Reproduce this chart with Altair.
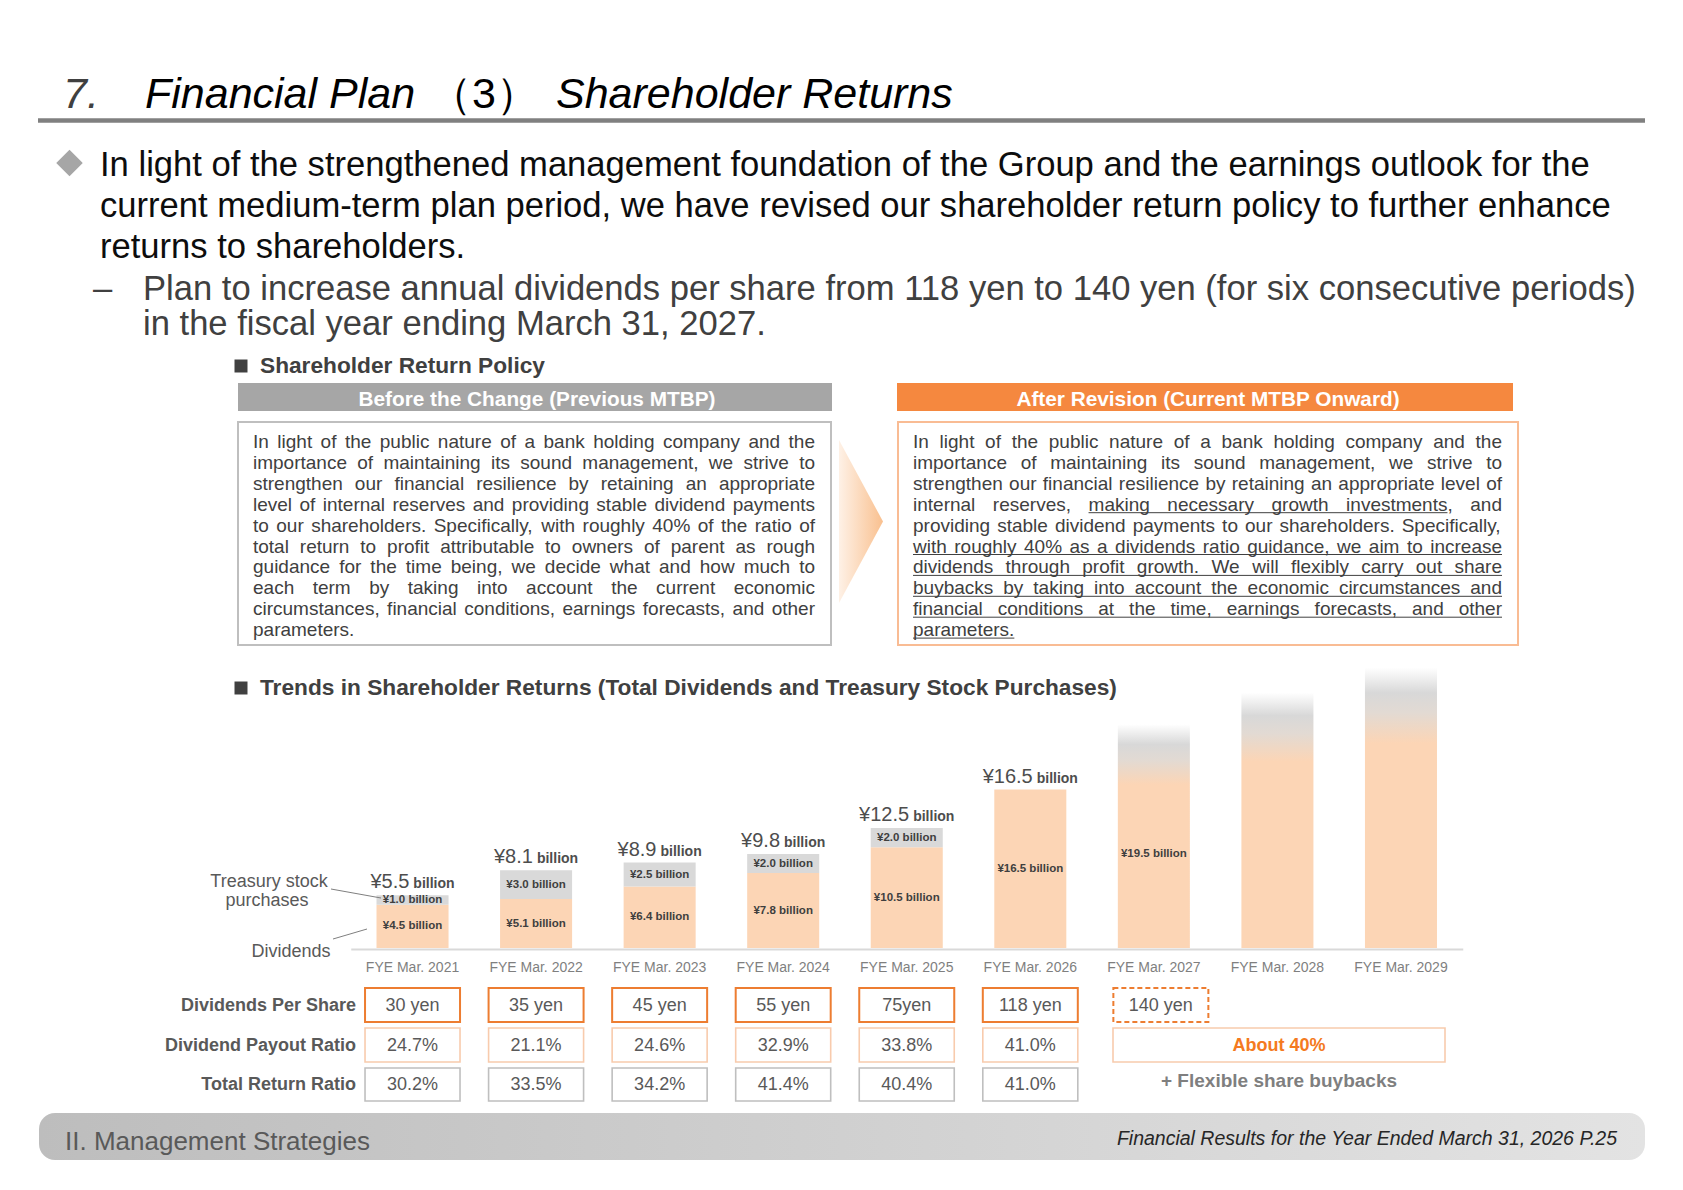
import altair as alt
import pandas as pd

# ---------------- data ----------------
years = ["FYE Mar. 2021", "FYE Mar. 2022", "FYE Mar. 2023", "FYE Mar. 2024",
         "FYE Mar. 2025", "FYE Mar. 2026", "FYE Mar. 2027", "FYE Mar. 2028", "FYE Mar. 2029"]
actual_years = years[:6]
plan_years = years[6:]
dividends_bn = [4.5, 5.1, 6.4, 7.8, 10.5, 16.5]
buybacks_bn = [1.0, 3.0, 2.5, 2.0, 2.0, 0.0]
totals_bn = [5.5, 8.1, 8.9, 9.8, 12.5, 16.5]
plan_dividend_bn = [19.5]                 # FYE Mar. 2027 plan
plan_bar_height_bn = [23.3, 26.6, 29.2]   # faded illustrative bars (estimated)
dps = ["30 yen", "35 yen", "45 yen", "55 yen", "75yen", "118 yen"]
dps_plan = ["140 yen"]
payout = ["24.7%", "21.1%", "24.6%", "32.9%", "33.8%", "41.0%"]
total_return = ["30.2%", "33.5%", "34.2%", "41.4%", "40.4%", "41.0%"]
payout_plan = "About 40%"
total_return_plan = "+ Flexible share buybacks"
row_labels = ["Dividends Per Share", "Dividend Payout Ratio", "Total Return Ratio"]

title_parts = ["7.", "Financial Plan", "（3）", "Shareholder Returns"]
bullet_lines = [
    "In light of the strengthened management foundation of the Group and the earnings outlook for the",
    "current medium-term plan period, we have revised our shareholder return policy to further enhance",
    "returns to shareholders.",
]
sub_lines = [
    "Plan to increase annual dividends per share from 118 yen to 140 yen (for six consecutive periods)",
    "in the fiscal year ending March 31, 2027.",
]
policy_title = "Shareholder Return Policy"
trend_title = "Trends in Shareholder Returns (Total Dividends and Treasury Stock Purchases)"
before_title = "Before the Change (Previous MTBP)"
after_title = "After Revision (Current MTBP Onward)"
before_lines = [
    "In light of the public nature of a bank holding company and the",
    "importance of maintaining its sound management, we strive to",
    "strengthen our financial resilience by retaining an appropriate",
    "level of internal reserves and providing stable dividend payments",
    "to our shareholders. Specifically, with roughly 40% of the ratio of",
    "total return to profit attributable to owners of parent as rough",
    "guidance for the time being, we decide what and how much to",
    "each term by taking into account the current economic",
    "circumstances, financial conditions, earnings forecasts, and other",
    "parameters.",
]
after_lines = [
    "In light of the public nature of a bank holding company and the",
    "importance of maintaining its sound management, we strive to",
    "strengthen our financial resilience by retaining an appropriate level of",
    "internal reserves, [making necessary growth investments], and",
    "providing stable dividend payments to our shareholders. Specifically,",
    "[with roughly 40% as a dividends ratio guidance, we aim to increase]",
    "[dividends through profit growth. We will flexibly carry out share]",
    "[buybacks by taking into account the economic circumstances and]",
    "[financial conditions at the time, earnings forecasts, and other]",
    "[parameters.]",
]
footer_left = "II. Management Strategies"
footer_right = "Financial Results for the Year Ended March 31, 2026 P.25"

# ---------------- layout helpers ----------------
W, H = 1660, 1166
FONT = "Liberation Sans, Arial, Helvetica, sans-serif"
PEACH = "#FCD5B5"
SEG_GRAY = "#D9D9D9"
ORANGE = "#ED7D31"
LIGHT_OR = "#F8CBAD"
BOX_GRAY = "#BFBFBF"
TXT = "#595959"
DARK = "#404040"


def cx(v):
    return v - 8


cy = cx

_W = ([278, 278, 355, 556, 556, 889, 667, 191, 333, 333, 389, 584, 278, 333, 278, 278] + [556] * 10 +
      [278, 278, 584, 584, 584, 556, 1015,
       667, 667, 722, 722, 667, 611, 778, 722, 278, 500, 667, 556, 833, 722, 778, 667, 778, 722, 667, 611,
       722, 667, 944, 667, 667, 611,
       278, 278, 278, 469, 556, 333,
       556, 556, 500, 556, 556, 278, 556, 556, 222, 222, 500, 222, 833, 556, 556, 556, 556, 333, 500, 278,
       556, 500, 722, 500, 500, 500,
       334, 260, 334, 584])
AW = {chr(32 + i): w for i, w in enumerate(_W)}


def tw(s, fs):
    return sum(AW.get(c, 556) for c in s) / 1000.0 * fs


PXS = alt.Scale(domain=[0, W], range=[0, W], nice=False, zero=False)
PYS = alt.Scale(domain=[0, H], range=[0, H], nice=False, zero=False)


def px(f):
    return alt.X(f"{f}:Q", scale=PXS, axis=None)


def py(f):
    return alt.Y(f"{f}:Q", scale=PYS, axis=None)


def text_layer(rows, **mk):
    df = pd.DataFrame(rows, columns=["x", "y", "t"])
    base = dict(font=FONT, baseline="middle", align="left")
    base.update(mk)
    return alt.Chart(df).mark_text(**base).encode(x=px("x"), y=py("y"), text="t:N")


def rect_layer(rows, **mk):
    df = pd.DataFrame(rows, columns=["x", "y", "x2", "y2"])
    return alt.Chart(df).mark_rect(**mk).encode(
        x=px("x"), y=py("y"), x2=alt.X2("x2:Q"), y2=alt.Y2("y2:Q"))


def rule_layer(rows, **mk):
    df = pd.DataFrame(rows, columns=["x", "y", "x2", "y2"])
    return alt.Chart(df).mark_rule(**mk).encode(
        x=px("x"), y=py("y"), x2=alt.X2("x2:Q"), y2=alt.Y2("y2:Q"))


def justify(lines, x0, x1, yc0, lh, fs):
    words, uls = [], []
    sp = tw(" ", fs)
    for i, line in enumerate(lines):
        y = yc0 + i * lh
        toks = line.split(" ")
        clean = [t.replace("[", "").replace("]", "") for t in toks]
        wid = [tw(t, fs) for t in clean]
        if i == len(lines) - 1 or len(toks) == 1:
            gap = sp
        else:
            gap = (x1 - x0 - sum(wid)) / (len(toks) - 1)
        x = x0
        ustart = None
        for tok, cl, wd in zip(toks, clean, wid):
            words.append((x, y, cl))
            if tok.startswith("["):
                ustart = x
            if "]" in tok:
                pre = tok[:tok.index("]")].replace("[", "")
                uls.append((ustart, y + 8, x + tw(pre, fs), y + 8))
                ustart = None
            x += wd + gap
    return words, uls


XS = alt.Scale(type="band", domain=years, range=[cx(350.75), cx(1462.75)],
               paddingInner=0.417, paddingOuter=0.2085)
YS = alt.Scale(domain=[0, 30], range=[cy(948), cy(948) - 288], nice=False, zero=False)


def bx(center=False, axis=None):
    kw = dict(scale=XS, axis=axis)
    if center:
        kw["bandPosition"] = 0.5
    return alt.X("year:N", **kw)


layers = []

# ---------------- title ----------------
layers.append(text_layer([(cx(63), cy(108), title_parts[0])], fontSize=43, fontStyle="italic",
                         color=DARK, baseline="alphabetic"))
layers.append(text_layer([(cx(145), cy(108), title_parts[1]), (cx(556), cy(108), title_parts[3])],
                         fontSize=43, fontStyle="italic", color="#000000", baseline="alphabetic"))
layers.append(text_layer([(cx(484), cy(108), title_parts[2])], fontSize=43, align="center",
                         color="#000000", baseline="alphabetic"))
layers.append(rule_layer([(cx(38), cy(120.5), cx(1645), cy(120.5))], color="#808080", strokeWidth=4.5))

# ---------------- bullets ----------------
layers.append(alt.Chart(pd.DataFrame({"x": [cx(69.5)], "y": [cy(163)]})).mark_point(
    shape="diamond", filled=True, size=700, color="#A6A6A6", opacity=1).encode(x=px("x"), y=py("y")))
layers.append(text_layer([(cx(100), cy(b), t) for b, t in zip([175.5, 217, 258], bullet_lines)],
                         fontSize=34.6, color="#0D0D0D", baseline="alphabetic"))
layers.append(text_layer([(cx(93), cy(300), "–")] +
                         [(cx(143), cy(b), t) for b, t in zip([300, 335], sub_lines)],
                         fontSize=34.6, color=DARK, baseline="alphabetic"))

# ---------------- section headers ----------------
layers.append(alt.Chart(pd.DataFrame({"x": [cx(241), cx(241)], "y": [cy(366), cy(688)]})).mark_square(
    size=169, color=DARK, opacity=1).encode(x=px("x"), y=py("y")))
layers.append(text_layer([(cx(260), cy(366), policy_title), (cx(260), cy(688), trend_title)],
                         fontSize=22.7, fontWeight="bold", color=DARK))

# ---------------- policy boxes ----------------
layers.append(rect_layer([(cx(238), cy(383), cx(832), cy(411))], color="#A6A6A6"))
layers.append(rect_layer([(cx(897), cy(383), cx(1513), cy(411))], color="#F5883F"))
layers.append(text_layer([(cx(537), cy(400), before_title), (cx(1208), cy(400), after_title)],
                         fontSize=20.8, fontWeight="bold", color="#FFFFFF", align="center"))
layers.append(rect_layer([(cx(238), cy(422), cx(831), cy(645))], fill="#FFFFFF", stroke=BOX_GRAY,
                         strokeWidth=2))
layers.append(rect_layer([(cx(898), cy(422), cx(1518), cy(645))], fill="#FFFFFF", stroke="#F9BC94",
                         strokeWidth=2))
bw, _ = justify(before_lines, cx(253), cx(815), cy(442), 20.9, 19)
aw, aul = justify(after_lines, cx(913), cx(1502), cy(442), 20.9, 19)
layers.append(text_layer(bw + aw, fontSize=19, color=DARK))
layers.append(rule_layer(aul, color=DARK, strokeWidth=1))

arrow_grad = {"gradient": "linear", "x1": 0, "y1": 0, "x2": 1, "y2": 0,
              "stops": [{"offset": 0, "color": "#FEF1E6"}, {"offset": 1, "color": "#F9C08F"}]}
layers.append(alt.Chart(pd.DataFrame({"x": [cx(861)], "y": [cy(521.5)]})).mark_point(
    shape="M -0.27 -1 L 0.27 0 L -0.27 1 Z", size=26569, filled=True, fill=arrow_grad,
    strokeWidth=0, opacity=1).encode(x=px("x"), y=py("y")))

# ---------------- bar chart ----------------
seg_rows, tb_rows = [], []
for yr, d, b in zip(actual_years, dividends_bn, buybacks_bn):
    seg_rows.append(dict(year=yr, y0=0.0, y1=d, mid=d / 2, label=f"¥{d:.1f} billion"))
    if b > 0:
        tb_rows.append(dict(year=yr, y0=d, y1=d + b, mid=d + b / 2, label=f"¥{b:.1f} billion"))
seg_df = pd.DataFrame(seg_rows)
tb_df = pd.DataFrame(tb_rows)

AXIS = alt.Axis(orient="bottom", offset=cy(949) - H, domainColor="#D9D9D9", domainWidth=2,
                ticks=False, tickSize=0, labelPadding=11, labelFont=FONT, labelFontSize=14,
                labelColor="#7F7F7F", labelAngle=0, title=None, grid=False)

fut_df = pd.DataFrame({"year": plan_years, "base": [0.0] * 3, "top": plan_bar_height_bn})
fut_grad = {"gradient": "linear", "x1": 0, "y1": 0, "x2": 0, "y2": 1,
            "stops": [{"offset": 0, "color": "#FFFFFF"},
                      {"offset": 0.09, "color": "#D8D8D8"},
                      {"offset": 0.16, "color": "#E2DAD3"},
                      {"offset": 0.27, "color": PEACH},
                      {"offset": 1, "color": PEACH}]}
layers.append(alt.Chart(fut_df).mark_bar(color=fut_grad).encode(
    x=bx(axis=AXIS), y=alt.Y("top:Q", scale=YS, axis=None), y2=alt.Y2("base:Q")))
layers.append(alt.Chart(seg_df).mark_bar(color=PEACH).encode(
    x=bx(), y=alt.Y("y1:Q", scale=YS, axis=None), y2=alt.Y2("y0:Q")))
layers.append(alt.Chart(tb_df).mark_bar(color=SEG_GRAY).encode(
    x=bx(), y=alt.Y("y1:Q", scale=YS, axis=None), y2=alt.Y2("y0:Q")))

plan_df = pd.DataFrame({"year": plan_years[:1], "mid": [v / 2 for v in plan_dividend_bn],
                        "label": [f"¥{v:.1f} billion" for v in plan_dividend_bn]})
for df in (seg_df, tb_df, plan_df):
    layers.append(alt.Chart(df).mark_text(font=FONT, fontSize=11.5, fontWeight="bold", color="#3F3F3F",
                                          baseline="middle", align="center").encode(
        x=bx(center=True), y=alt.Y("mid:Q", scale=YS, axis=None), text="label:N"))

BILLION_W = 2.945 * 14
for yr, tot in zip(actual_years, totals_bn):
    amt = f"¥{tot:.1f}"
    wa = tw(amt, 20)
    dxa = -(wa + 4 + BILLION_W) / 2 + wa
    df = pd.DataFrame({"year": [yr], "v": [tot], "a": [amt], "b": ["billion"]})
    layers.append(alt.Chart(df).mark_text(font=FONT, fontSize=20, align="right", baseline="alphabetic",
                                          dx=dxa, dy=-7, color="#4D4D4D").encode(
        x=bx(center=True), y=alt.Y("v:Q", scale=YS, axis=None), text="a:N"))
    layers.append(alt.Chart(df).mark_text(font=FONT, fontSize=14, fontWeight="bold", align="left",
                                          baseline="alphabetic", dx=dxa + 4, dy=-7, color="#4D4D4D").encode(
        x=bx(center=True), y=alt.Y("v:Q", scale=YS, axis=None), text="b:N"))

# annotations
layers.append(text_layer([(cx(269), cy(882), "Treasury stock"), (cx(267), cy(901), "purchases"),
                          (cx(291), cy(952), "Dividends")], fontSize=18, color=TXT, align="center"))
layers.append(rule_layer([(cx(331), cy(889), cx(381), cy(898)), (cx(333), cy(939), cx(367), cy(929))],
                         color="#7F7F7F", strokeWidth=1))

# ---------------- table ----------------
row_top = [cy(988), cy(1028), cy(1068)]
row_bot = [cy(1022), cy(1062), cy(1101)]
row_mid = [cy(1005.5), cy(1045.5), cy(1084.5)]
row_stroke = [(ORANGE, 2), (LIGHT_OR, 1.6), (BOX_GRAY, 1.6)]
for r, vals in enumerate([dps, payout, total_return]):
    df = pd.DataFrame({"year": actual_years, "label": vals})
    col, swd = row_stroke[r]
    layers.append(alt.Chart(df).mark_bar(width=95, fill="#FFFFFF", stroke=col, strokeWidth=swd).encode(
        x=bx(), y=alt.value(row_top[r]), y2=alt.value(row_bot[r])))
    layers.append(alt.Chart(df).mark_text(font=FONT, fontSize=18, color=TXT, align="center",
                                          baseline="middle").encode(
        x=bx(center=True), y=alt.value(row_mid[r]), text="label:N"))

plan_dps_df = pd.DataFrame({"year": plan_years[:1], "label": dps_plan})
layers.append(alt.Chart(plan_dps_df).mark_bar(width=95, xOffset=7, fill="#FFFFFF", stroke=ORANGE,
                                              strokeWidth=2, strokeDash=[5, 3]).encode(
    x=bx(), y=alt.value(row_top[0]), y2=alt.value(row_bot[0])))
layers.append(alt.Chart(plan_dps_df).mark_text(font=FONT, fontSize=18, color=TXT, align="center",
                                               baseline="middle", dx=7).encode(
    x=bx(center=True), y=alt.value(row_mid[0]), text="label:N"))

layers.append(rect_layer([(cx(1113), cy(1028), cx(1445), cy(1062))], fill="#FFFFFF", stroke=LIGHT_OR,
                         strokeWidth=1.6))
layers.append(text_layer([(cx(1279), cy(1046), payout_plan)], fontSize=18, fontWeight="bold",
                         color="#F47A20", align="center"))
layers.append(text_layer([(cx(1279), cy(1081), total_return_plan)], fontSize=19, fontWeight="bold",
                         color="#7F7F7F", align="center"))
layers.append(text_layer([(cx(356), m, t) for m, t in zip(row_mid, row_labels)], fontSize=18,
                         fontWeight="bold", color=TXT, align="right"))

# ---------------- footer ----------------
foot_grad = {"gradient": "linear", "x1": 0, "y1": 0, "x2": 1, "y2": 0,
             "stops": [{"offset": 0, "color": "#BDBDBD"}, {"offset": 1, "color": "#E3E3E3"}]}
layers.append(rect_layer([(cx(39), cy(1113), cx(1645), cy(1160))], color=foot_grad, cornerRadius=16))
layers.append(text_layer([(cx(65), cy(1142), footer_left)], fontSize=26, color=TXT))
layers.append(text_layer([(cx(1617), cy(1139), footer_right)], fontSize=19.5, fontStyle="italic",
                         color="#262626", align="right"))

chart = alt.layer(*layers).resolve_scale(x="independent", y="independent").properties(
    width=W, height=H, autosize=alt.AutoSizeParams(type="none"), padding=0, background="#FFFFFF"
).configure_view(stroke=None)

chart.save("out.html", embed_options={"renderer": "svg", "actions": False})
